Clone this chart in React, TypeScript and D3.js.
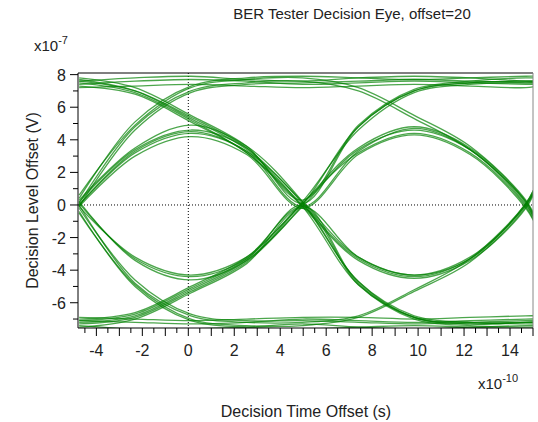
import * as d3 from 'd3';
import React from 'react';

// knot times (x1e-10 s), one quarter unit interval apart
const knots = [-4.75, -2.32, 0.11, 2.54, 4.97, 7.4, 9.83, 12.26, 14.69, 15.2];

// decision level offset (x1e-7 V) of each trace at the knots
const traces: number[][] = [
  [7.6, 7.8, 7.9, 7.7, 7.6, 7.8, 7.9, 7.8, 7.6, 7.6],
  [7.4, 7.6, 7.7, 7.6, 7.4, 7.5, 7.6, 7.5, 7.4, 7.4],
  [7.2, 7.3, 7.4, 7.3, 7.2, 7.3, 7.4, 7.3, 7.2, 7.3],
  [7.7, 7.0, 5.3, 3.4, 0.1, -4.7, -6.8, -7.2, -7.3, -7.3],
  [7.5, 6.9, 5.2, 3.2, -0.1, -4.9, -6.9, -7.3, -7.2, -7.2],
  [7.6, 7.0, 5.4, 3.5, 0.2, -3.2, -4.3, -3.3, 0.1, 1.5],
  [7.3, 6.8, 5.1, 3.2, -0.1, -3.4, -4.5, -3.4, -0.2, 1.3],
  [0.1, 4.8, 7.0, 7.5, 7.6, 7.0, 5.3, 3.4, 0.2, -1.2],
  [-0.1, 4.6, 6.9, 7.4, 7.5, 7.6, 7.7, 7.6, 7.5, 7.5],
  [0.2, 3.4, 4.6, 3.5, 0.1, 4.8, 7.0, 7.5, 7.6, 7.6],
  [0.0, 3.2, 4.4, 3.3, -0.1, 3.3, 4.7, 3.4, 0.0, -1.3],
  [0.3, 3.5, 4.9, 3.6, 0.2, -4.7, -6.9, -7.3, -7.2, -7.2],
  [-0.1, 3.0, 4.2, 3.1, -0.2, 3.1, 4.3, 3.1, -0.2, -1.5],
  [-7.4, -7.6, -7.6, -7.5, -7.3, -7.5, -7.6, -7.5, -7.4, -7.4],
  [-7.1, -7.2, -7.3, -7.2, -7.0, -7.1, -7.2, -7.1, -7.0, -7.0],
  [-6.9, -7.0, -7.1, -7.0, -6.9, -6.9, -7.0, -6.9, -6.8, -6.8],
  [-7.2, -6.8, -5.2, -3.4, 0.0, 4.8, 7.0, 7.5, 7.6, 7.6],
  [-7.0, -6.6, -5.0, -3.2, 0.2, 4.6, 6.9, 7.4, 7.5, 7.5],
  [-7.3, -6.9, -5.3, -3.5, -0.1, 3.4, 4.6, 3.4, 0.1, -1.4],
  [-7.1, -6.7, -5.1, -3.3, 0.1, 3.2, 4.4, 3.2, -0.1, -1.5],
  [0.0, -4.8, -6.8, -7.2, -7.2, -6.8, -5.2, -3.3, 0.1, 1.5],
  [-0.2, -4.6, -6.7, -7.1, -7.1, -7.2, -7.3, -7.2, -7.1, -7.1],
  [0.1, -3.3, -4.4, -3.3, 0.0, -4.8, -6.9, -7.2, -7.2, -7.2],
  [-0.1, -3.2, -4.3, -3.2, -0.1, -3.2, -4.3, -3.2, 0.0, 1.4],
  [0.2, -3.4, -4.6, -3.4, 0.1, 3.5, 4.8, 3.5, 0.2, -1.3],
  [0.0, 3.3, 4.5, 3.3, 0.0, -3.3, -4.4, -3.3, 0.0, 1.3],
  [7.8, 7.2, 5.5, 3.6, 0.3, 4.9, 7.1, 7.6, 7.8, 7.8],
  [-7.5, -7.0, -5.4, -3.6, -0.2, -4.9, -7.0, -7.4, -7.5, -7.5],
  [0.6, 4.9, 7.2, 7.7, 7.8, 7.2, 5.5, 3.6, 0.3, -1.1],
  [-0.5, -4.9, -7.0, -7.4, -7.4, -6.9, -5.3, -3.5, -0.1, 1.4],
  [0.4, 5.1, 7.3, 7.8, 7.9, 7.8, 7.7, 7.8, 7.9, 7.9],
  [-0.4, -5.0, -7.1, -7.5, -7.6, -7.5, -7.4, -7.5, -7.6, -7.6],
];

const xTickLabels = [-4, -2, 0, 2, 4, 6, 8, 10, 12, 14];
const yTickLabels = [-6, -4, -2, 0, 2, 4, 6, 8];

export default function App() {
  const width = 538;
  const height = 422;
  const left = 78, right = 533, top = 73, bottom = 328;

  const x = d3.scaleLinear().domain([-4.8, 15]).range([left, right]);
  const y = d3.scaleLinear().domain([-7.55, 8.1]).range([bottom, top]);

  const line = d3.line<[number, number]>()
    .x(d => x(d[0]))
    .y(d => y(d[1]))
    .curve(d3.curveCatmullRom.alpha(0.5));

  const font = 'Liberation Sans, Arial, sans-serif';
  const xMinor = d3.range(-4.5, 15.01, 0.5);
  const yMinor = d3.range(-7, 8.01, 1);

  return (
    <svg width={width} height={height} style={{ position: 'absolute', left: 0, top: 0 }} fontFamily={font}>
      <rect width={width} height={height} fill="#fff" />
      <defs>
        <clipPath id="plot">
          <rect x={left} y={top} width={right - left} height={bottom - top} />
        </clipPath>
      </defs>
      <text x={352} y={19} textAnchor="middle" fontSize={15} fill="#222">BER Tester Decision Eye, offset=20</text>
      <text x={34} y={51} fontSize={15} fill="#222">x10<tspan dy={-7} fontSize={11}>-7</tspan></text>
      <text x={478} y={389} fontSize={15} fill="#222">x10<tspan dy={-7} fontSize={11}>-10</tspan></text>
      <text x={306} y={417} textAnchor="middle" fontSize={16} fill="#222">Decision Time Offset (s)</text>
      <text transform={`translate(38,${(top + bottom) / 2}) rotate(-90)`} textAnchor="middle" fontSize={16} fill="#222">Decision Level Offset (V)</text>

      <line x1={x(0)} x2={x(0)} y1={top} y2={bottom} stroke="#000" strokeDasharray="1,2" />
      <line x1={left} x2={right} y1={y(0)} y2={y(0)} stroke="#000" strokeDasharray="1,2" />

      <g clipPath="url(#plot)">
        {traces.map((t, i) => (
          <path key={i} d={line(knots.map((k, j) => [k, t[j]] as [number, number])) || ''}
            fill="none" stroke="#008000" strokeOpacity={0.7} strokeWidth={1.3} />
        ))}
      </g>

      <line x1={left} x2={right} y1={top} y2={top} stroke="#000" />
      <line x1={right} x2={right} y1={top} y2={bottom} stroke="#888" />
      <line x1={left} x2={left} y1={top} y2={bottom} stroke="#000" />
      <line x1={left} x2={right} y1={bottom} y2={bottom} stroke="#000" />

      {xMinor.map(v => (
        <line key={v} x1={x(v)} x2={x(v)} y1={bottom} y2={bottom + (Number.isInteger(v) ? 8 : 5)} stroke="#000" />
      ))}
      {xTickLabels.map(v => (
        <text key={v} x={x(v)} y={bottom + 28} textAnchor="middle" fontSize={16} fill="#222">{v}</text>
      ))}
      {yMinor.map(v => (
        <line key={v} x1={left - (v % 2 === 0 ? 8 : 5)} x2={left} y1={y(v)} y2={y(v)} stroke="#000" />
      ))}
      {yTickLabels.map(v => (
        <text key={v} x={left - 12} y={y(v) + 6} textAnchor="end" fontSize={16} fill="#222">{v}</text>
      ))}
    </svg>
  );
}
